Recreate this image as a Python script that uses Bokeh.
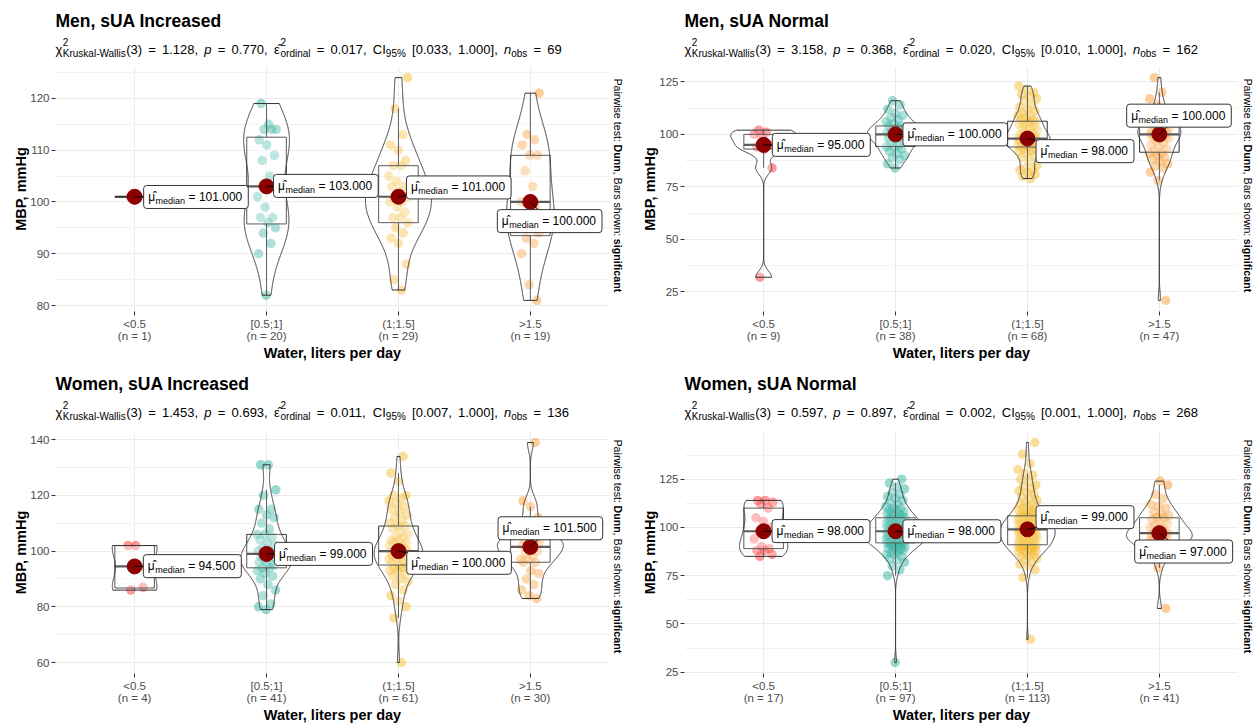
import math
import numpy as np
from bokeh.plotting import figure
from bokeh.models import Range1d, FixedTicker, Label
from bokeh.layouts import column, row
from bokeh.embed import file_html
from bokeh.resources import INLINE

FONT = "Arial"

# ---------------- data ----------------
categories = ["<0.5", "[0.5;1]", "(1;1.5]", ">1.5"]
group_colors = ["#FF0000", "#00A08A", "#F2AD00", "#F98400"]

panel_titles = ["Men, sUA Increased", "Men, sUA Normal", "Women, sUA Increased", "Women, sUA Normal"]
kw_chi2 = ["1.128", "3.158", "1.453", "0.597"]
kw_p = ["0.770", "0.368", "0.693", "0.897"]
eps2_ordinal = ["0.017", "0.020", "0.011", "0.002"]
ci95_low = ["0.033", "0.010", "0.007", "0.001"]
ci95_high = ["1.000", "1.000", "1.000", "1.000"]
n_obs = [69, 162, 136, 268]
group_n = [[1, 20, 29, 19], [9, 38, 68, 47], [4, 41, 61, 30], [17, 97, 113, 41]]

y_major_ticks = [[80, 90, 100, 110, 120], [25, 50, 75, 100, 125],
                 [60, 80, 100, 120, 140], [25, 50, 75, 100, 125]]
y_minor_ticks = [[75, 85, 95, 105, 115, 125], [12.5, 37.5, 62.5, 87.5, 112.5, 137.5],
                 [50, 70, 90, 110, 130, 150], [12.5, 37.5, 62.5, 87.5, 112.5, 137.5]]

# MBP values per group (mmHg)
men_inc_lt05 = [101]
men_inc_05_1 = [82, 90, 92, 94, 95, 96, 97, 97, 99, 101, 105, 108, 109, 111, 112, 114, 114, 114, 115, 119]
men_inc_1_15 = [83, 85, 88, 92, 93, 94, 95, 96, 97, 97, 98, 99, 100, 100, 101, 101, 102, 103, 103, 104,
                105, 107, 107, 108, 110, 111, 113, 118, 124]
men_inc_gt15 = [81, 84, 90, 92, 93, 94, 96, 97, 99, 100, 100, 103, 106, 109, 109, 111, 112, 113, 121]

men_nor_lt05 = [32, 84, 93, 94, 95, 99, 100, 101, 102]
men_nor_05_1 = [84, 86, 88, 89, 90, 91, 92, 93, 94, 94, 95, 96, 97, 98, 98, 99, 99, 100, 100, 100,
                100, 101, 101, 102, 102, 103, 103, 104, 104, 105, 106, 107, 108, 109, 110, 112, 114, 116]
men_nor_1_15 = [79, 80, 81, 82, 83, 83, 84, 85,
                87, 89, 90, 91, 92, 92, 93, 93, 94, 94,
                95, 95, 95, 96, 96, 96, 97, 97, 97, 97,
                98, 98, 98, 98, 98, 98,
                98, 99, 99, 100, 100, 101, 101, 102, 103, 103,
                104, 104, 105, 105, 105, 106, 106, 107, 107, 108,
                109, 109, 110, 111, 112, 113, 114, 116, 117, 118,
                119, 120, 121, 123]
men_nor_gt15 = [21, 78, 82, 84, 85, 86, 87, 88, 89, 90,
                91, 91, 92, 93, 94, 95, 96, 97, 98, 98,
                99, 99, 99, 100, 100, 100, 101, 101, 102, 102,
                103, 103, 104, 104, 105, 105, 106, 106, 107, 108,
                109, 110, 112, 114, 117, 120, 127]

wom_inc_lt05 = [86, 87, 102, 102]
wom_inc_05_1 = [79, 80, 81, 84, 86, 88, 90, 91, 92, 93,
                94, 94, 95, 95, 96, 96, 97, 97, 98, 98,
                99, 99, 100, 100, 101, 102, 103, 104, 105, 106,
                106, 108, 110, 112, 113, 115, 115, 120, 122, 131, 131]
wom_inc_1_15 = [60, 76, 80, 82, 84, 86, 88, 89, 90, 91,
                92, 93, 93, 94, 94, 95, 95, 96, 96, 97,
                97, 98, 98, 98, 99, 99, 99, 100, 100, 100,
                100, 101, 101, 102, 102, 103, 103, 104, 104, 105,
                105, 106, 107, 108, 109, 109, 110, 111, 112, 113,
                114, 115, 116, 117, 118, 119, 120, 120, 125, 128, 134]
wom_inc_gt15 = [83, 84, 86, 88, 90, 92, 93, 96, 96, 97,
                97, 98, 99, 100, 101, 102, 102, 102, 103, 103,
                104, 104, 105, 106, 107, 110, 112, 116, 118, 139]

wom_nor_lt05 = [85, 86, 88, 88, 89, 90, 94, 97, 98, 100, 103, 105, 110, 112, 113, 114, 114]
wom_nor_05_1 = [30, 75, 78, 80, 82, 83, 84, 85, 86, 86,
                87, 87, 88, 88, 89, 89, 90, 90, 90, 91,
                91, 91, 92, 92, 92, 93, 93, 93, 93, 94,
                94, 94, 94, 95, 95, 95, 95, 95, 96, 96,
                96, 96, 97, 97, 97, 97, 97, 98, 98, 98,
                98, 98, 99, 99, 99, 99, 100, 100, 100, 100,
                101, 101, 101, 102, 102, 102, 103, 103, 103, 104,
                104, 104, 105, 105, 105, 106, 106, 107, 107, 108,
                108, 109, 109, 110, 110, 111, 112, 113, 114, 115,
                116, 117, 118, 120, 121, 123, 125]
wom_nor_1_15 = [42, 74, 78, 80, 81, 82, 83, 84, 85, 85,
                86, 86, 87, 87, 88, 88, 89, 89, 89, 90,
                90, 90, 90, 90, 91, 91, 91, 91, 91, 92,
                93, 93, 93, 93, 94, 94, 94, 94, 95, 95,
                95, 95, 96, 96, 96, 96, 97, 97, 97, 97,
                98, 98, 98, 98, 98, 99, 99, 99, 99, 99,
                100, 100, 100, 100, 101, 101, 101, 101, 102, 102,
                102, 103, 103, 103, 104, 104, 104, 105, 105, 105,
                105, 106, 106, 106, 106, 107, 108, 108, 109, 109,
                110, 110, 111, 112, 112, 113, 114, 115, 116, 117,
                118, 119, 120, 121, 122, 124, 125, 127, 128, 130,
                133, 138, 144]
wom_nor_gt15 = [58, 79, 84, 86, 88, 89, 90, 91, 92, 92,
                93, 93, 94, 95, 95, 96, 96, 96, 97, 97,
                97, 98, 99, 100, 100, 101, 102, 103, 104, 105,
                105, 106, 107, 108, 110, 111, 112, 115, 117, 122, 124]

panel_values = [
    [men_inc_lt05, men_inc_05_1, men_inc_1_15, men_inc_gt15],
    [men_nor_lt05, men_nor_05_1, men_nor_1_15, men_nor_gt15],
    [wom_inc_lt05, wom_inc_05_1, wom_inc_1_15, wom_inc_gt15],
    [wom_nor_lt05, wom_nor_05_1, wom_nor_1_15, wom_nor_gt15],
]

# ---------------- layout (positions, not data) ----------------
FRAME_W = 554
BOTTOM = 50
geometry = [
    dict(left=55, note_w=18, note_x=8.5, header_h=66, frame_h=247, title_up=46, sub_up=17, note_down=12),
    dict(left=57, note_w=16, note_x=9.5, header_h=66, frame_h=247, title_up=46, sub_up=17, note_down=12),
    dict(left=55, note_w=18, note_x=8.5, header_h=68, frame_h=244, title_up=48, sub_up=19, note_down=8),
    dict(left=57, note_w=16, note_x=9.5, header_h=68, frame_h=244, title_up=48, sub_up=19, note_down=8),
]
# repelled median-label placement: left edge offset (px) from group centre, centre height (y units)
label_dx = [[9, 7, 8, -33], [8.7, 7.4, 8.6, -32.7], [8.7, 8, 8.3, -32.3], [8.4, 7.4, 8.6, -24.7]]
label_y = [[100.96, 103.1, 102.8, 96.3], [95, 100, 92, 108.9], [94.6, 99, 95.8, 108.2], [98.1, 98, 105.3, 87.5]]

# ---------------- text metrics (Arial / Liberation Sans, per 1000 em) ----------------
_REG = {' ': 278, '!': 278, '%': 889, '(': 333, ')': 333, ',': 278, '-': 333, '.': 278, ':': 278,
        '=': 584, '[': 278, ']': 278, '<': 584, '>': 584, ';': 278,
        'A': 667, 'B': 667, 'C': 722, 'D': 722, 'I': 278, 'K': 667, 'P': 667, 'W': 944,
        'a': 556, 'b': 556, 'c': 500, 'd': 556, 'e': 556, 'f': 278, 'g': 556, 'h': 556, 'i': 222,
        'k': 500, 'l': 222, 'm': 833, 'n': 556, 'o': 556, 'p': 556, 'r': 333, 's': 500, 't': 278,
        'u': 556, 'w': 722, 'y': 500, '\u03c7': 500, '\u03b5': 445, '\u03bc': 576}
for _d in "0123456789":
    _REG[_d] = 556
_BOLD = {' ': 278, ',': 278, ':': 333, 'B': 722, 'D': 722, 'a': 556, 'c': 556, 'f': 333, 'g': 611,
         'i': 278, 'n': 611, 's': 556, 't': 333, 'u': 611}


def text_w(s, size, bold=False):
    tab = _BOLD if bold else _REG
    tot = 0
    for ch in s:
        if ch == "\u0302":
            continue
        tot += tab.get(ch, 556)
    return tot * size / 1000.0


def bw_nrd0(v):
    hi = v.std(ddof=1)
    q1, q3 = np.percentile(v, [25, 75])
    lo = min(hi, (q3 - q1) / 1.34)
    if not lo > 0:
        lo = hi if hi > 0 else 1.0
    return 0.9 * lo * len(v) ** (-0.2)


def density(v):
    bw = bw_nrd0(v)
    ys = np.linspace(v.min(), v.max(), 512)
    d = np.exp(-0.5 * ((ys[:, None] - v[None, :]) / bw) ** 2).sum(axis=1) / (len(v) * bw * math.sqrt(2 * math.pi))
    return ys, d


def add_label(p, x, y, text, dx, dy, size, style="normal", color="black", baseline="middle", angle=0.0):
    p.add_layout(Label(x=x, y=y, x_units="data", y_units="data", x_offset=dx, y_offset=dy, text=text,
                       text_font=FONT, text_font_size=f"{size}px", text_font_style=style,
                       text_color=color, text_baseline=baseline, text_align="left", angle=angle))


def blank_fig(w, h, bottom=0):
    f = figure(width=w, height=h, x_range=Range1d(0, w), y_range=Range1d(0, h - bottom),
               output_backend="svg", toolbar_location=None, title=None,
               x_axis_type=None, y_axis_type=None,
               min_border_left=0, min_border_right=0, min_border_top=0, min_border_bottom=bottom)
    f.outline_line_color = None
    f.background_fill_color = "white"
    f.border_fill_color = "white"
    return f


def make_panel(i):
    g = geometry[i]
    groups = [np.sort(np.asarray(v, dtype=float)) for v in panel_values[i]]
    allv = np.concatenate(groups)
    lo, hi = allv.min(), allv.max()
    pad = 0.05 * (hi - lo)
    y0, y1 = lo - pad, hi + pad
    x0, x1 = 0.4, 4.6
    frame_h = g["frame_h"]
    plot_w = g["left"] + FRAME_W
    plot_h = frame_h + BOTTOM
    ppx = FRAME_W / (x1 - x0)
    ppy = frame_h / (y1 - y0)

    p = figure(width=plot_w, height=plot_h, x_range=Range1d(x0, x1), y_range=Range1d(y0, y1),
               output_backend="svg", toolbar_location=None, title=None,
               min_border_left=g["left"], min_border_top=0, min_border_right=0, min_border_bottom=BOTTOM)
    p.background_fill_color = "white"
    p.border_fill_color = "white"
    p.outline_line_color = None

    # axes
    p.xaxis.ticker = FixedTicker(ticks=[1, 2, 3, 4])
    p.xaxis.major_label_overrides = {k + 1: f"{categories[k]}\n(n = {group_n[i][k]})" for k in range(4)}
    p.yaxis.ticker = FixedTicker(ticks=y_major_ticks[i], minor_ticks=y_minor_ticks[i])
    p.xaxis.axis_label = "Water, liters per day"
    p.yaxis.axis_label = "MBP, mmHg"
    for ax in (p.xaxis[0], p.yaxis[0]):
        ax.axis_line_color = None
        ax.major_tick_line_color = "#333333"
        ax.major_tick_in = 0
        ax.major_tick_out = 4
        ax.minor_tick_line_color = None
        ax.major_label_text_font = FONT
        ax.major_label_text_font_size = "11.5px"
        ax.major_label_text_color = "#4D4D4D"
        ax.axis_label_text_font = FONT
        ax.axis_label_text_font_size = "14.5px"
        ax.axis_label_text_font_style = "bold"
        ax.axis_label_text_color = "black"
    p.yaxis.major_label_standoff = 2
    p.yaxis.axis_label_standoff = -2
    p.xaxis.major_label_standoff = 2
    p.xaxis.axis_label_standoff = 0
    p.xaxis.major_label_text_line_height = 1.0
    p.xgrid.grid_line_color = "#EBEBEB"
    p.ygrid.grid_line_color = "#EBEBEB"
    p.ygrid.minor_grid_line_color = "#F2F2F2"

    # jittered points
    for gi, v in enumerate(groups):
        k = np.arange(len(v))
        jit = 0.075 * (2 * ((k * 0.6180339887 + 0.31 + 0.17 * gi) % 1.0) - 1)
        p.scatter(gi + 1 + jit, v, size=9.5, fill_color=group_colors[gi], fill_alpha=0.4, line_color=None)

    # boxplots
    for gi, v in enumerate(groups):
        xc = gi + 1
        q1, med, q3 = np.percentile(v, [25, 50, 75])
        iqr = q3 - q1
        wlo = v[v >= q1 - 1.5 * iqr].min()
        whi = v[v <= q3 + 1.5 * iqr].max()
        p.segment([xc, xc], [q3, q1], [xc, xc], [whi, wlo], line_color="#333333", line_width=1)
        p.quad(left=[xc - 0.15], right=[xc + 0.15], bottom=[q1], top=[q3], fill_color="white",
               fill_alpha=0.2, line_color="#333333", line_width=1)
        p.segment([xc - 0.15], [med], [xc + 0.15], [med], line_color="#333333", line_width=2.2)

    # violins (kernel density, area scaled, width 0.5)
    dens = [density(v) if len(v) >= 2 else None for v in groups]
    dmax = max(d[1].max() for d in dens if d is not None)
    for gi, dd in enumerate(dens):
        if dd is None:
            continue
        ys, d = dd
        hw = 0.25 * d / dmax
        xc = gi + 1
        xs = np.concatenate([xc - hw, (xc + hw)[::-1]])
        yy = np.concatenate([ys, ys[::-1]])
        p.patch(xs, yy, fill_color="white", fill_alpha=0.2, line_color="#333333", line_width=1)

    # median points
    meds = [float(np.median(v)) for v in groups]
    p.scatter([1, 2, 3, 4], meds, size=15, fill_color="#8B0000", line_color="#8B0000")

    # median labels
    for gi, m in enumerate(meds):
        xc = gi + 1
        dx = label_dx[i][gi]
        yc = label_y[i][gi]
        main_txt = f"= {m:.3f}"
        w = 4.5 + text_w("\u03bc", 12) + 0.5 + text_w("median", 9) + 3.5 + text_w(main_txt, 12) + 6
        h = 23
        cx = dx + w / 2
        cy = (yc - m) * ppy
        vx, vy = -cx, -cy
        s = min((w / 2) / abs(vx) if vx != 0 else 1e9, (h / 2) / abs(vy) if vy != 0 else 1e9)
        if s < 1:
            bx, by = cx + s * vx, cy + s * vy
            if math.hypot(bx, by) > 6:
                p.segment([xc], [m], [xc + bx / ppx], [m + by / ppy], line_color="black", line_width=1)
        p.rect([xc + cx / ppx], [yc], width=w, height=h, width_units="screen", height_units="screen",
               fill_color="white", line_color="#333333", line_width=1, border_radius=3)
        xo = dx + 4.5
        add_label(p, xc, yc, "\u03bc\u0302", xo, 0, 12)
        xo += text_w("\u03bc", 12) + 0.5
        add_label(p, xc, yc, "median", xo, -4, 9)
        xo += text_w("median", 9) + 3.5
        add_label(p, xc, yc, main_txt, xo, 0, 12)

    # ---- header: title + rich subtitle ----
    hw_total = plot_w + g["note_w"]
    hdr = blank_fig(hw_total, g["header_h"])
    lx = g["left"]
    add_label(hdr, lx, g["title_up"], panel_titles[i], 0, 0, 17.5, style="bold")
    S, s_, SP = 13, 10, 6.2
    toks = [("t", "\u03c7", S, "normal", 0), ("gap", 0.8), ("sup", "2"), ("t", "Kruskal-Wallis", s_, "normal", -3.5),
            ("t", "(3)", S, "normal", 0), ("gap", SP), ("t", "=", S, "normal", 0), ("gap", SP),
            ("t", kw_chi2[i] + ",", S, "normal", 0), ("gap", SP),
            ("t", "p", S, "italic", 0), ("gap", SP), ("t", "=", S, "normal", 0), ("gap", SP),
            ("t", kw_p[i] + ",", S, "normal", 0), ("gap", SP),
            ("t", "\u03b5\u0302", S, "normal", 0), ("gap", 0.8), ("sup", "2"), ("t", "ordinal", s_, "normal", -3.5),
            ("gap", SP), ("t", "=", S, "normal", 0), ("gap", SP), ("t", eps2_ordinal[i] + ",", S, "normal", 0),
            ("gap", SP), ("t", "CI", S, "normal", 0), ("t", "95%", s_, "normal", -3.5), ("gap", SP),
            ("t", "[" + ci95_low[i] + ",", S, "normal", 0), ("gap", SP), ("t", ci95_high[i] + "],", S, "normal", 0),
            ("gap", SP), ("t", "n", S, "italic", 0), ("t", "obs", s_, "normal", -3.5), ("gap", SP),
            ("t", "=", S, "normal", 0), ("gap", SP), ("t", str(n_obs[i]), S, "normal", 0)]
    xo = 0.0
    for tk in toks:
        if tk[0] == "gap":
            xo += tk[1]
        elif tk[0] == "sup":
            add_label(hdr, lx, g["sub_up"], tk[1], xo, 8, s_, baseline="alphabetic")
        else:
            _, txt, size, style, dy = tk
            add_label(hdr, lx, g["sub_up"], txt, xo, dy, size, style=style, baseline="alphabetic")
            xo += text_w(txt, size)

    # ---- right-side pairwise note (rotated) ----
    nf = blank_fig(g["note_w"], plot_h, bottom=BOTTOM)
    note = [("Pairwise test: ", "normal"), ("Dunn", "bold"), (", Bars shown: ", "normal"), ("significant", "bold")]
    yo = g["note_down"]
    for txt, style in note:
        add_label(nf, g["note_x"], frame_h - yo, txt, 0, 0, 10.7, style=style, angle=-math.pi / 2)
        yo += text_w(txt, 10.7, bold=(style == "bold"))
    return column(hdr, row(p, nf))


panels = [make_panel(i) for i in range(4)]
layout = column(row(panels[0], panels[1]), row(panels[2], panels[3]))
open("out.html", "w").write(file_html(layout, INLINE))
